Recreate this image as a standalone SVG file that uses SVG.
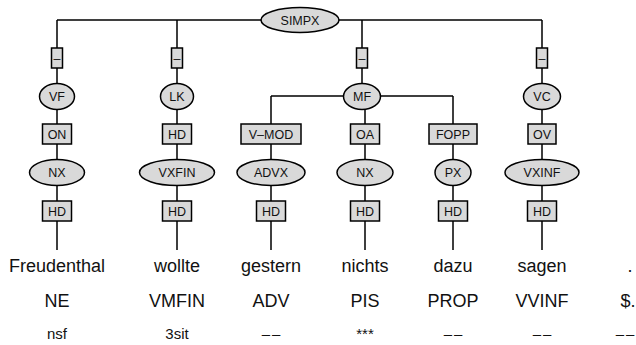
<svg xmlns="http://www.w3.org/2000/svg" width="636" height="345" viewBox="0 0 636 345">
<style>
.e{fill:#d9d9d9;stroke:#000;stroke-width:1.5}
.b{fill:#d9d9d9;stroke:#000;stroke-width:1.5}
.c{fill:none;stroke:#000;stroke-width:1.5}
.l{font-family:"Liberation Sans",Arial,sans-serif;font-size:12.5px;fill:#111;text-anchor:middle}
.w{font-family:"Liberation Sans",Arial,sans-serif;font-size:18px;fill:#111;text-anchor:middle}
.m{font-family:"Liberation Sans",Arial,sans-serif;font-size:15px;fill:#111;text-anchor:middle}
.d{letter-spacing:2px}
</style>
<rect width="636" height="345" fill="#fff"/>
<g id="connectors">
<path class="c" d="M57,20H542M57,20V250M177,20V250M362,20V96M542,20V250M271,96H453M271,96V250M365,96V250M453,96V250"/>
</g>
<g id="SIMPX"><ellipse class="e" cx="300" cy="20" rx="39" ry="12.5"/><text class="l" x="300" y="24.5">SIMPX</text></g>
<g id="e-vf"><rect class="b" x="51.5" y="48" width="11" height="20"/><text class="l" x="57" y="62.5">–</text></g>
<g id="e-lk"><rect class="b" x="171.5" y="48" width="11" height="20"/><text class="l" x="177" y="62.5">–</text></g>
<g id="e-mf"><rect class="b" x="356.5" y="48" width="11" height="20"/><text class="l" x="362" y="62.5">–</text></g>
<g id="e-vc"><rect class="b" x="536.5" y="48" width="11" height="20"/><text class="l" x="542" y="62.5">–</text></g>
<g id="VF"><ellipse class="e" cx="57" cy="96.5" rx="17.5" ry="13"/><text class="l" x="57" y="101">VF</text></g>
<g id="LK"><ellipse class="e" cx="177" cy="96.5" rx="16.5" ry="13"/><text class="l" x="177" y="101">LK</text></g>
<g id="MF"><ellipse class="e" cx="362" cy="96.5" rx="18.5" ry="13"/><text class="l" x="362" y="101">MF</text></g>
<g id="VC"><ellipse class="e" cx="542" cy="96.5" rx="18.5" ry="13"/><text class="l" x="542" y="101">VC</text></g>
<g id="e-on"><rect class="b" x="42.5" y="124" width="29" height="20"/><text class="l" x="57" y="138.5">ON</text></g>
<g id="e-hd1"><rect class="b" x="162.5" y="124" width="29" height="20"/><text class="l" x="177" y="138.5">HD</text></g>
<g id="e-vmod"><rect class="b" x="241" y="124" width="60" height="20"/><text class="l" x="271" y="138.5">V–MOD</text></g>
<g id="e-oa"><rect class="b" x="350.5" y="124" width="29" height="20"/><text class="l" x="365" y="138.5">OA</text></g>
<g id="e-fopp"><rect class="b" x="429" y="124" width="48" height="20"/><text class="l" x="453" y="138.5">FOPP</text></g>
<g id="e-ov"><rect class="b" x="528" y="124" width="28" height="20"/><text class="l" x="542" y="138.5">OV</text></g>
<g id="NX1"><ellipse class="e" cx="57" cy="172.5" rx="27.5" ry="13"/><text class="l" x="57" y="177">NX</text></g>
<g id="VXFIN"><ellipse class="e" cx="177" cy="172.5" rx="37.5" ry="13"/><text class="l" x="177" y="177">VXFIN</text></g>
<g id="ADVX"><ellipse class="e" cx="271" cy="172.5" rx="34" ry="13"/><text class="l" x="271" y="177">ADVX</text></g>
<g id="NX2"><ellipse class="e" cx="365" cy="172.5" rx="28" ry="13"/><text class="l" x="365" y="177">NX</text></g>
<g id="PX"><ellipse class="e" cx="453" cy="172.5" rx="18" ry="13"/><text class="l" x="453" y="177">PX</text></g>
<g id="VXINF"><ellipse class="e" cx="542" cy="172.5" rx="37" ry="13"/><text class="l" x="542" y="177">VXINF</text></g>
<g id="hd-1"><rect class="b" x="42.5" y="201" width="29" height="20"/><text class="l" x="57" y="215.5">HD</text></g>
<g id="hd-2"><rect class="b" x="162.5" y="201" width="29" height="20"/><text class="l" x="177" y="215.5">HD</text></g>
<g id="hd-3"><rect class="b" x="256.5" y="201" width="29" height="20"/><text class="l" x="271" y="215.5">HD</text></g>
<g id="hd-4"><rect class="b" x="350.5" y="201" width="29" height="20"/><text class="l" x="365" y="215.5">HD</text></g>
<g id="hd-5"><rect class="b" x="438.5" y="201" width="29" height="20"/><text class="l" x="453" y="215.5">HD</text></g>
<g id="hd-6"><rect class="b" x="527.5" y="201" width="29" height="20"/><text class="l" x="542" y="215.5">HD</text></g>
<g id="words">
<text class="w" x="57" y="272">Freudenthal</text>
<text class="w" x="177" y="272">wollte</text>
<text class="w" x="271" y="272">gestern</text>
<text class="w" x="365" y="272">nichts</text>
<text class="w" x="453" y="272">dazu</text>
<text class="w" x="542" y="272">sagen</text>
<text class="w" x="630" y="272">.</text>
</g>
<g id="pos">
<text class="w" x="57" y="307">NE</text>
<text class="w" x="177" y="307">VMFIN</text>
<text class="w" x="271" y="307">ADV</text>
<text class="w" x="365" y="307">PIS</text>
<text class="w" x="453" y="307">PROP</text>
<text class="w" x="542" y="307">VVINF</text>
<text class="w" x="628" y="307">$.</text>
</g>
<g id="morph">
<text class="m" x="57" y="339">nsf</text>
<text class="m" x="177" y="339">3sit</text>
<text class="m d" x="272" y="339">––</text>
<text class="m" x="365" y="339">***</text>
<text class="m d" x="454" y="339">––</text>
<text class="m d" x="543" y="339">––</text>
<text class="m d" x="626" y="339">––</text>
</g>
</svg>
